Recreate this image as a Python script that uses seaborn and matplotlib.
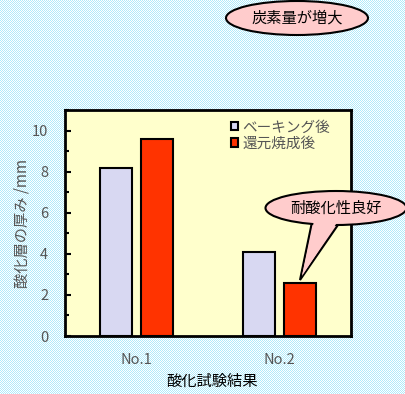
import numpy as np
import pandas as pd
import seaborn as sns
import matplotlib
matplotlib.use("Agg")
import matplotlib.pyplot as plt
from matplotlib.patches import Ellipse, Polygon
from matplotlib.ticker import MultipleLocator

categories = ["No.1", "No.2"]
series_names = ["ベーキング後", "還元焼成後"]
baking = [8.2, 4.1]
reduced = [9.6, 2.6]
xlabel = "酸化試験結果"
ylabel = "酸化層の厚み /mm"
note_top = "炭素量が増大"
note_callout = "耐酸化性良好"

df = pd.DataFrame({
    "cat": categories * 2,
    "series": [series_names[0]] * 2 + [series_names[1]] * 2,
    "val": baking + reduced,
})

sns.set_theme(style="white")
plt.rcParams['font.family'] = ['Noto Sans CJK JP', 'DejaVu Sans']

W, H = 406, 394
fig = plt.figure(figsize=(W / 100, H / 100), dpi=100)

# patterned background
pat = np.ones((H, W, 3))
yy, xx = np.mgrid[0:H, 0:W]
mask = ((xx + yy) % 2 == 0)
pat[mask] = np.array([0xb0, 0xea, 0xfa]) / 255.0
fig.figimage(pat, 0, 0, zorder=-10)
fig.patch.set_alpha(0)

def fx(px):
    return px / W

def fy(py):
    return 1 - py / H

ax = fig.add_axes([fx(65), fy(336), fx(351) - fx(65), fy(110) - fy(336)])
ax.set_facecolor("#ffffcc")

sns.barplot(data=df, x="cat", y="val", hue="series", order=categories,
            hue_order=series_names, palette=["#d8d8f2", "#ff3300"],
            width=0.56, gap=0.2, edgecolor="black", linewidth=1.5,
            saturation=1, ax=ax, legend=True)

ax.set_xlim(-0.5, 1.5)
ax.set_ylim(0, 11)
ax.yaxis.set_major_locator(MultipleLocator(2))
ax.yaxis.set_minor_locator(MultipleLocator(1))
ax.set_yticks([0, 2, 4, 6, 8, 10])
ax.tick_params(axis="y", which="major", direction="in", length=4, width=1.5,
               color="black", left=True, labelsize=10.5, labelcolor="#555555", pad=12)
ax.tick_params(axis="y", which="minor", direction="in", length=3, width=1.5,
               color="black", left=True)
ax.tick_params(axis="x", length=0, labelsize=10.5, labelcolor="#555555", pad=12)
for s in ax.spines.values():
    s.set_color("black")
    s.set_linewidth(2)

ax.set_xlabel("")
ax.set_ylabel("")
fig.text(fx(212), fy(381), xlabel, ha="center", va="center", fontsize=11, color="black")
fig.text(fx(22), fy(223), ylabel, ha="center", va="center", fontsize=11,
         color="#555555", rotation=90)

leg = ax.legend(loc="upper left", bbox_to_anchor=(0.56, 0.98), frameon=False,
                fontsize=10.5, handlelength=0.5, handleheight=0.5,
                handletextpad=0.3, labelspacing=0.15, borderaxespad=0)
for t in leg.get_texts():
    t.set_color("#555555")
for h in leg.legend_handles:
    h.set_linewidth(1.5)
    h.set_edgecolor("black")

# top ellipse note
e1 = Ellipse((fx(297), fy(18)), fx(142), 34 / H, transform=fig.transFigure,
             facecolor="#ffcccc", edgecolor="black", linewidth=1.5, zorder=5)
fig.patches.append(e1)
fig.text(fx(297), fy(18), note_top, ha="center", va="center", fontsize=11,
         color="black", zorder=6)

# callout ellipse
tail = Polygon([(fx(312), fy(222)), (fx(300), fy(280)), (fx(340), fy(222))],
               closed=True, transform=fig.transFigure, facecolor="#ffcccc",
               edgecolor="black", linewidth=1.5, zorder=5)
fig.patches.append(tail)
e2 = Ellipse((fx(336), fy(208)), fx(141), 34 / H, transform=fig.transFigure,
             facecolor="#ffcccc", edgecolor="black", linewidth=1.5, zorder=6)
fig.patches.append(e2)
cover = Polygon([(fx(314), fy(221)), (fx(302), fy(276)), (fx(338), fy(221))],
                closed=True, transform=fig.transFigure, facecolor="#ffcccc",
                edgecolor="none", zorder=7)
fig.patches.append(cover)
fig.text(fx(336), fy(208), note_callout, ha="center", va="center", fontsize=11,
         color="black", zorder=8)

fig.savefig("out.png", dpi=100)
